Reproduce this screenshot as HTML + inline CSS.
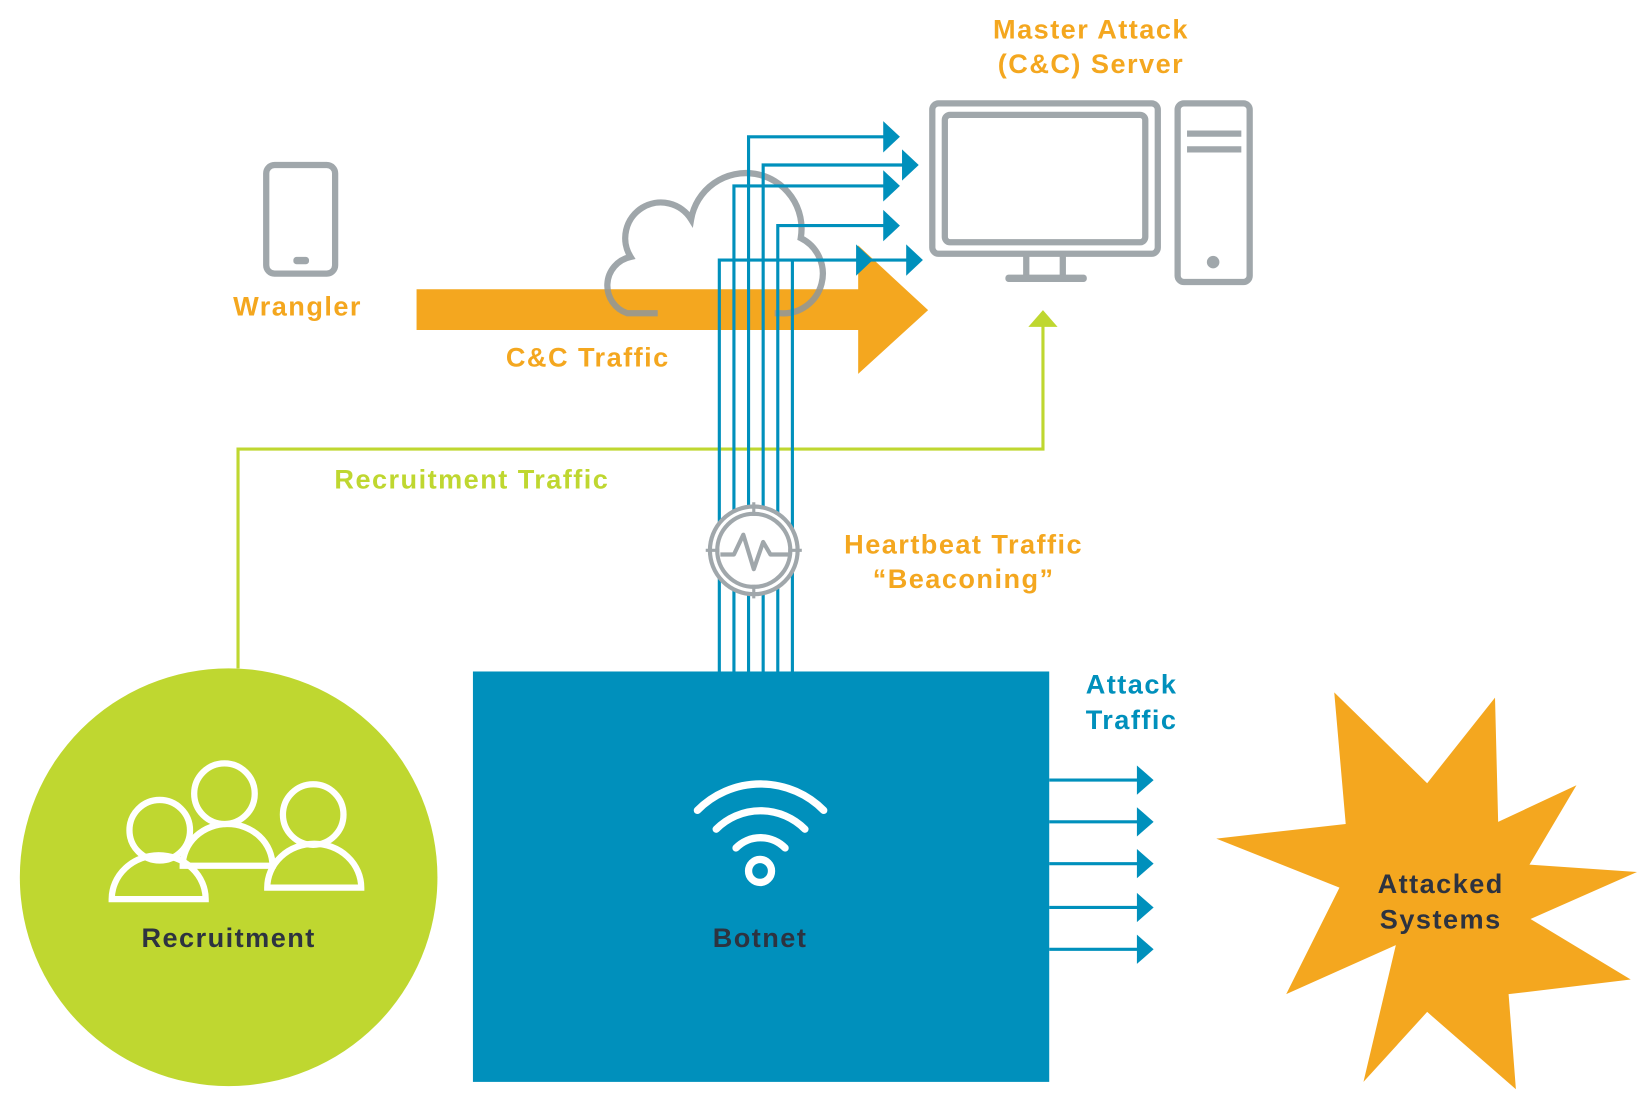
<!DOCTYPE html>
<html><head><meta charset="utf-8"><style>
html,body{margin:0;padding:0;background:#fff;}
svg{display:block;}
text{font-family:"Liberation Sans",sans-serif;font-weight:bold;letter-spacing:1.4px;}
</style></head><body>
<svg width="1637" height="1108" viewBox="0 0 1568 1061" preserveAspectRatio="none" xmlns="http://www.w3.org/2000/svg">
<g fill="#F4A71F" font-size="26" text-anchor="middle">
<text x="1045" y="37">Master Attack</text>
<text x="1045" y="70">(C&amp;C) Server</text>
<text x="285" y="302">Wrangler</text>
<text x="563" y="351">C&amp;C Traffic</text>
<text x="923" y="530">Heartbeat Traffic</text>
<text x="923" y="563">“Beaconing”</text>
</g>
<g fill="none" stroke="#A0A7AB" stroke-width="6">
<rect x="893" y="99" width="216" height="144" rx="6"/>
<rect x="905" y="110" width="192" height="122" rx="5"/>
<path d="M983 244V265M1018 244V265"/>
<rect x="1128" y="99" width="69" height="171" rx="6"/>
<path d="M1137 128H1189M1137 143H1189"/>
<rect x="255" y="158" width="66" height="104" rx="8"/>
</g>
<rect x="963" y="263" width="78" height="7" rx="3" fill="#A0A7AB"/>
<circle cx="1162" cy="251" r="6" fill="#A0A7AB"/>
<rect x="281" y="246" width="15" height="7" rx="3" fill="#A0A7AB"/>
<path d="M399 277H822V235L889 297L822 358V316H399Z" fill="#F4A71F"/>
<path d="M630 300H601A28 28 0 0 1 604 246A30 30 0 0 1 662 210A53 53 0 0 1 767 228A38 38 0 0 1 748 300H742" fill="none" stroke="#8E979B" stroke-opacity="0.85" stroke-width="6"/>
<path d="M228 640V430H999V312" fill="none" stroke="#BFD730" stroke-width="3"/>
<path d="M985 313L999 297L1013 313Z" fill="#BFD730"/>
<text x="452" y="468" fill="#BFD730" font-size="26" text-anchor="middle">Recruitment Traffic</text>
<g fill="none" stroke="#0090BC" stroke-width="3">
<path d="M717 643V131H850"/>
<path d="M731 643V158H866"/>
<path d="M703 643V178H850"/>
<path d="M745 643V216H850"/>
<path d="M689 643V249H870"/>
<path d="M759 643V249"/>
</g>
<g fill="#0090BC">
<path d="M846 116L862 131L846 146Z"/>
<path d="M864 143L880 158L864 173Z"/>
<path d="M846 163L862 178L846 193Z"/>
<path d="M846 201L862 216L846 231Z"/>
<path d="M820 234L836 249L820 264Z"/>
<path d="M868 234L884 249L868 264Z"/>
</g>
<circle cx="722" cy="527" r="42" fill="#fff" stroke="#A0A7AB" stroke-width="4"/>
<circle cx="722" cy="527" r="35" fill="none" stroke="#A0A7AB" stroke-width="4"/>
<path d="M722 481V494M722 560V573M676 527H689M755 527H768" stroke="#A0A7AB" stroke-width="3"/>
<path d="M690 531H703L712 512L722 545L731 519L738 531H756" fill="none" stroke="#A0A7AB" stroke-width="4" stroke-linejoin="round"/>
<circle cx="219" cy="840" r="200" fill="#BFD730"/>
<g fill="none" stroke="#fff" stroke-width="6">
<circle cx="153" cy="795" r="29"/>
<circle cx="215" cy="760" r="29"/>
<circle cx="300" cy="780" r="29"/>
<path d="M107 861A45 42 0 0 1 197 861Z"/>
<path d="M175 829A43 40 0 0 1 261 829Z"/>
<path d="M256 850A45 42 0 0 1 346 850Z"/>
</g>
<text x="219" y="907" fill="#2D3340" font-size="26" text-anchor="middle">Recruitment</text>
<rect x="453" y="643" width="552" height="393" fill="#0090BC"/>
<g fill="none" stroke="#fff" stroke-width="7" stroke-linecap="round">
<path d="M668 776A85 85 0 0 1 789 776"/>
<path d="M686 794A60 60 0 0 1 771 794"/>
<path d="M705 812A33 33 0 0 1 752 812"/>
</g>
<circle cx="728" cy="834" r="11" fill="none" stroke="#fff" stroke-width="7"/>
<text x="728" y="907" fill="#2D3340" font-size="26" text-anchor="middle">Botnet</text>
<g fill="#0090BC" font-size="26">
<text x="1040" y="664">Attack</text>
<text x="1040" y="698">Traffic</text>
</g>
<g stroke="#0090BC" stroke-width="3">
<path d="M1005 747H1092M1005 787H1092M1005 827H1092M1005 869H1092M1005 909H1092"/>
</g>
<g fill="#0090BC">
<path d="M1089 733L1105 747L1089 761Z"/>
<path d="M1089 773L1105 787L1089 801Z"/>
<path d="M1089 813L1105 827L1089 841Z"/>
<path d="M1089 855L1105 869L1089 883Z"/>
<path d="M1089 895L1105 909L1089 923Z"/>
</g>
<path d="M1278 663L1367 750L1432 668L1435 787L1510 752L1465 828L1568 835L1466 880L1562 938L1445 952L1452 1043L1367 969L1306 1036L1337 905L1232 952L1283 850L1165 803L1289 789Z" fill="#F4A71F"/>
<g fill="#2D3340" font-size="26" text-anchor="middle">
<text x="1380" y="855">Attacked</text>
<text x="1380" y="889">Systems</text>
</g>
</svg>
</body></html>
